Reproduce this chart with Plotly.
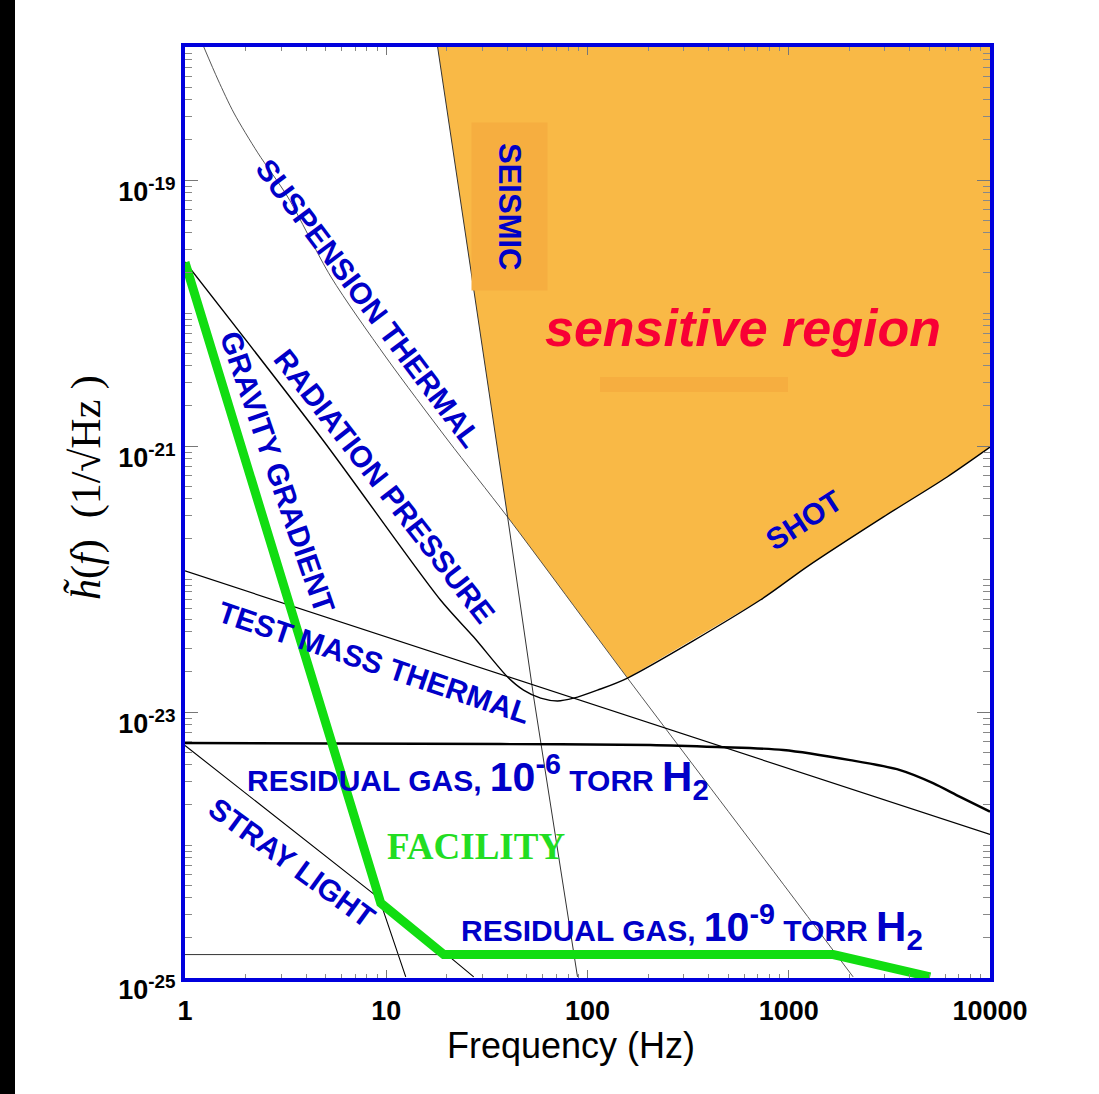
import numpy as np
import plotly.graph_objects as go

# ---------------- data ----------------
# suspension thermal noise
susp_f = [1.24, 1.46, 1.75, 2.30, 3.24, 5.31, 9.95, 20.2, 40.1, 158, 698, 2089]
susp_h = [1.0e-18, 5.65e-19, 3.19e-19, 1.60e-19, 7.45e-20, 1.87e-20, 4.67e-21,
          1.11e-21, 2.92e-22, 1.80e-23, 9.2e-25, 1.02e-25]
# seismic wall
seis_f = [18.0, 40.1, 54.0, 89.2]
seis_h = [1.0e-18, 2.92e-22, 1.30e-23, 1.02e-25]
# radiation pressure + shot noise (quantum)
quant_f = [1.0, 4.84, 18.6, 27.2, 40.1, 48.1, 58.5, 71.0, 85.3, 112, 158,
           722, 1236, 2944, 6124, 10000]
quant_h = [2.42e-20, 1.11e-21, 6.95e-23, 3.66e-23, 1.83e-23, 1.46e-23, 1.27e-23,
           1.21e-23, 1.27e-23, 1.46e-23, 1.80e-23, 6.95e-23, 1.24e-22, 2.92e-22,
           5.85e-22, 9.8e-22]
# test mass thermal
tm_f = [1.0, 10000]
tm_h = [1.15e-22, 1.2e-24]
# residual gas 1e-6 torr H2
rg6_f = [1.0, 37.0, 205, 442, 939, 2020, 3574, 5212, 7100, 10000]
rg6_h = [5.85e-24, 5.74e-24, 5.65e-24, 5.45e-24, 5.18e-24, 4.35e-24, 3.66e-24,
         2.92e-24, 2.30e-24, 1.78e-24]
# stray light
stray_f = [1.0, 9.07, 27.2]
stray_h = [5.6e-24, 4.06e-25, 1.02e-25]
# gravity gradient
grav_f = [1.0, 9.39, 12.5]
grav_h = [2.4e-20, 3.66e-25, 1.02e-25]
# residual gas 1e-9 torr H2
rg9_f = [1.0, 1660]
rg9_h = [1.5e-25, 1.5e-25]
# facility limit
fac_f = [1.0, 9.39, 19.3, 1663, 5040]
fac_h = [2.4e-20, 3.66e-25, 1.5e-25, 1.5e-25, 1.02e-25]

# axis extents
F_MIN, F_MAX = 1.0, 1.0e4
H_MIN, H_MAX = 1.0e-25, 1.0e-18

x_major = [1, 10, 100, 1000, 10000]
x_major_text = ["1", "10", "100", "1000", "10000"]
y_major = [1e-25, 1e-23, 1e-21, 1e-19]
y_major_text = ["10<sup>-25</sup>", "10<sup>-23</sup>", "10<sup>-21</sup>", "10<sup>-19</sup>"]

# ---------------- figure ----------------
fig = go.Figure()

# sensitive region polygon built from the bounding curves
sf, sh = np.array(seis_f), np.array(seis_h)
uf, uh = np.array(susp_f), np.array(susp_h)
qf, qh = np.array(quant_f), np.array(quant_h)
m1 = sf <= 40.1
m2 = (uf > 40.1) & (uf <= 158)
m3 = qf > 158
poly_f = list(sf[m1]) + list(uf[m2]) + list(qf[m3]) + [F_MAX, sf[0]]
poly_h = list(sh[m1]) + list(uh[m2]) + list(qh[m3]) + [H_MAX, sh[0]]
fig.add_trace(go.Scatter(x=poly_f, y=poly_h, mode="lines", fill="toself",
                         fillcolor="#F9B946", line=dict(width=0), hoverinfo="skip"))

def line(x, y, color="black", width=1.0, shape="linear"):
    fig.add_trace(go.Scatter(x=x, y=y, mode="lines",
                             line=dict(color=color, width=width, shape=shape, smoothing=0.8),
                             hoverinfo="skip"))

line(susp_f, susp_h, "#444444", 0.9, "spline")
line(seis_f, seis_h, "#333333", 1.0)
line(quant_f, quant_h, "black", 1.4, "spline")
line(tm_f, tm_h, "black", 1.2)
line(rg6_f, rg6_h, "black", 2.4, "spline")
line(stray_f, stray_h, "black", 1.1)
line(grav_f, grav_h, "black", 1.1)
line(rg9_f, rg9_h, "#333333", 1.0)
line(fac_f, fac_h, "#11DD11", 9)

BLUE = "#0000C8"
LAB = dict(family="Liberation Sans, Arial, sans-serif", size=30, color=BLUE, weight="bold")

def px(X):
    return (X - 185) / 805.0

def py(Y):
    return (978 - Y) / 931.0

ann = []
def label(text, X, Y, angle=0, font=LAB, **kw):
    ann.append(dict(text=text, x=px(X), y=py(Y), xref="paper", yref="paper",
                    showarrow=False, textangle=angle, font=font,
                    xanchor="center", yanchor="middle", **kw))

label("SUSPENSION THERMAL", 369, 303, 53)
label("RADIATION PRESSURE", 385, 486, 52)
label("GRAVITY GRADIENT", 278, 472, 71)
label("TEST MASS THERMAL", 374, 662, 18.5)
label("STRAY LIGHT", 292, 862, 36)
label("RESIDUAL GAS, <span style='font-size:41px'>10<sup>-6</sup></span> TORR "
      "<span style='font-size:42px'>H<sub>2</sub></span>", 478, 777)
label("RESIDUAL GAS, <span style='font-size:41px'>10<sup>-9</sup></span> TORR "
      "<span style='font-size:42px'>H<sub>2</sub></span>", 692, 927)
label("SEISMIC", 510, 206, 90, font=dict(LAB, size=31), bgcolor="#F6AE40", borderpad=20)
label("SHOT", 803, 520, -33)
label("FACILITY", 476, 846, 0,
      font=dict(family="Liberation Serif, Times New Roman, serif", size=37,
                color="#22DD22", weight="bold"))
label("<i>sensitive region</i>", 743, 328, 0,
      font=dict(family="Liberation Sans, Arial, sans-serif",
                size=52, color="#F80035", weight="bold"))

# axis titles
ann.append(dict(text="Frequency (Hz)", x=px(571), y=py(1045), xref="paper", yref="paper",
                showarrow=False, xanchor="center", yanchor="middle",
                font=dict(family="Liberation Sans, Arial, sans-serif", size=36, color="black")))
ann.append(dict(text="<i>h\u0303</i>(<i>f</i>)&nbsp;&nbsp;(1/\u221aHz&nbsp;)", x=px(86), y=py(488),
                xref="paper", yref="paper", showarrow=False, textangle=-90,
                xanchor="center", yanchor="middle",
                font=dict(family="Liberation Serif, Times New Roman, serif", size=42,
                          color="black")))

x_minor = [n * 10.0 ** k for k in range(0, 4) for n in range(2, 10)]
y_minor = [n * 10.0 ** k for k in range(-25, -18) for n in range(1, 10)
           if n * 10.0 ** k not in y_major and n * 10.0 ** k <= H_MAX]

TICKFONT = dict(family="Liberation Sans, Arial, sans-serif", size=27, color="black",
                weight="bold")

fig.update_layout(
    width=1099, height=1094,
    paper_bgcolor="white", plot_bgcolor="white",
    margin=dict(l=185, r=109, t=47, b=116),
    showlegend=False,
    annotations=ann,
    shapes=[dict(type="rect", xref="paper", yref="paper",
                 x0=px(600), x1=px(788), y0=py(392), y1=py(377),
                 fillcolor="#F6AE40", line=dict(width=0), layer="above"),
            dict(type="rect", xref="paper", yref="paper",
                 x0=px(0), x1=px(15), y0=py(1094), y1=py(0),
                 fillcolor="black", line=dict(width=0), layer="below")],
    xaxis=dict(type="log", range=[np.log10(F_MIN), np.log10(F_MAX)],
               tickmode="array", tickvals=x_major, ticktext=x_major_text,
               ticks="inside", ticklen=8, tickwidth=1.2, tickcolor="#777777",
               minor=dict(tickmode="array", tickvals=x_minor, ticks="inside",
                          ticklen=4, tickwidth=1, tickcolor="#888888", showgrid=False),
               showgrid=False, zeroline=False,
               showline=True, linecolor="#0000DD", linewidth=4, mirror="ticks",
               tickfont=TICKFONT, ticklabelstandoff=6),
    yaxis=dict(type="log", range=[np.log10(H_MIN), np.log10(H_MAX)],
               tickmode="array", tickvals=y_major, ticktext=y_major_text,
               ticks="inside", ticklen=13, tickwidth=1.2, tickcolor="#777777",
               minor=dict(tickmode="array", tickvals=y_minor, ticks="inside",
                          ticklen=7, tickwidth=1, tickcolor="#888888", showgrid=False),
               showgrid=False, zeroline=False,
               showline=True, linecolor="#0000DD", linewidth=4, mirror="ticks",
               tickfont=TICKFONT, ticklabelstandoff=0, ticklabelshift=12),
)

fig.write_html("out.html")
